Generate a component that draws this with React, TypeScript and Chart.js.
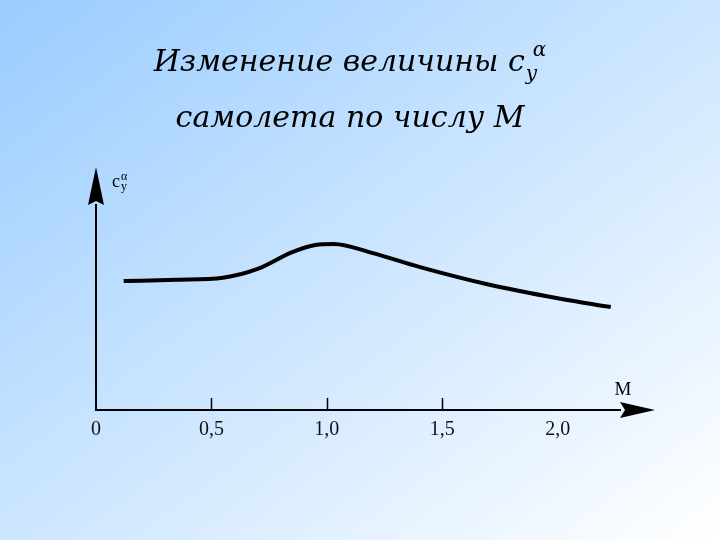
import React, { useEffect, useRef } from "react";
import { Chart, registerables } from "chart.js";

Chart.register(...registerables);

// Mach number (x) and relative c_y^alpha (y)
const machValues = [0.12, 0.35, 0.55, 0.7, 0.85, 0.95, 1.03, 1.2, 1.4, 1.7, 2.0, 2.23];
const cyaValues = [0.629, 0.635, 0.645, 0.688, 0.77, 0.805, 0.81, 0.765, 0.698, 0.612, 0.545, 0.502];
const tickValues = [0, 0.5, 1.0, 1.5, 2.0];
const tickLabels = ["0", "0,5", "1,0", "1,5", "2,0"];
const tickMarkValues = [0.5, 1.0, 1.5];
const titleLine1 = "Изменение величины c";
const titleSub = "y";
const titleSup = "α";
const titleLine2 = "самолета по числу М";
const xAxisName = "M";

const X_MAX = 2.27;

const decorPlugin = {
  id: "decor",
  afterDraw(chart: any) {
    const ctx = chart.ctx;
    const xs = chart.scales.x;
    const ys = chart.scales.y;
    const area = chart.chartArea;
    const x0 = xs.getPixelForValue(0);
    const y0 = ys.getPixelForValue(0);
    ctx.save();
    ctx.fillStyle = "#000";
    ctx.strokeStyle = "#000";
    // inward tick marks
    ctx.lineWidth = 1.5;
    tickMarkValues.forEach((v) => {
      const px = Math.round(xs.getPixelForValue(v)) + 0.5;
      ctx.beginPath();
      ctx.moveTo(px, y0);
      ctx.lineTo(px, y0 - 12);
      ctx.stroke();
    });
    // y arrow
    const yTop = area.top;
    ctx.beginPath();
    ctx.moveTo(x0, yTop - 38);
    ctx.lineTo(x0 + 8, yTop);
    ctx.lineTo(x0, yTop - 4);
    ctx.lineTo(x0 - 8, yTop);
    ctx.closePath();
    ctx.fill();
    // x arrow
    const xRight = area.right;
    ctx.beginPath();
    ctx.moveTo(xRight + 35, y0);
    ctx.lineTo(xRight, y0 + 8);
    ctx.lineTo(xRight + 5, y0);
    ctx.lineTo(xRight, y0 - 8);
    ctx.closePath();
    ctx.fill();
    // axis names
    ctx.font = "19px 'Liberation Serif'";
    ctx.textAlign = "center";
    ctx.textBaseline = "alphabetic";
    ctx.fillText(xAxisName, xRight + 3, y0 - 15);
    ctx.font = "18px 'Liberation Serif'";
    ctx.textAlign = "left";
    ctx.fillText("c", x0 + 16, yTop - 18);
    ctx.font = "12px 'Liberation Serif'";
    ctx.fillText("α", x0 + 25, yTop - 25);
    ctx.fillText("y", x0 + 25, yTop - 15);
    // title
    ctx.font = "italic 30px 'DejaVu Serif'";
    const w1 = ctx.measureText(titleLine1).width;
    ctx.font = "italic 20px 'DejaVu Serif'";
    const wsub = ctx.measureText(titleSub).width;
    const wsup = ctx.measureText(titleSup).width;
    const total = w1 + Math.max(wsub, wsup + 6) + 2;
    const cx = 350;
    let sx = cx - total / 2;
    ctx.font = "italic 30px 'DejaVu Serif'";
    ctx.fillText(titleLine1, sx, 71);
    ctx.font = "italic 20px 'DejaVu Serif'";
    ctx.fillText(titleSub, sx + w1 + 1, 80);
    ctx.fillText(titleSup, sx + w1 + 8, 56);
    ctx.font = "italic 30px 'DejaVu Serif'";
    ctx.textAlign = "center";
    ctx.fillText(titleLine2, cx, 127);
    ctx.restore();
  },
};

export default function App() {
  const ref = useRef<HTMLCanvasElement | null>(null);
  useEffect(() => {
    document.body.style.margin = "0";
    const data = machValues.map((m, i) => ({ x: m, y: cyaValues[i] }));
    const chart = new Chart(ref.current as HTMLCanvasElement, {
      type: "line",
      data: {
        datasets: [
          {
            data,
            borderColor: "#000",
            borderWidth: 4,
            pointRadius: 0,
            tension: 0.4,
            cubicInterpolationMode: "monotone",
            fill: false,
          },
        ],
      },
      options: {
        animation: false,
        responsive: false,
        layout: { padding: { left: 96, right: 100, top: 205, bottom: 100 } },
        plugins: { legend: { display: false }, tooltip: { enabled: false }, title: { display: false } },
        scales: {
          x: {
            type: "linear",
            min: 0,
            max: X_MAX,
            afterBuildTicks: (scale: any) => {
              scale.ticks = tickValues.map((v) => ({ value: v }));
            },
            afterFit: (scale: any) => {
              scale.height = 30;
            },
            grid: { display: false, drawTicks: false },
            border: { display: true, color: "#000", width: 2 },
            ticks: {
              padding: 8,
              color: "#111",
              font: { family: "'Liberation Serif'", size: 20 },
              callback: (v: any) => {
                const i = tickValues.indexOf(Number(v));
                return i >= 0 ? tickLabels[i] : "";
              },
              maxRotation: 0,
              autoSkip: false,
            },
          },
          y: {
            type: "linear",
            min: 0,
            max: 1,
            afterFit: (scale: any) => {
              scale.width = 0;
            },
            grid: { display: false, drawTicks: false },
            border: { display: true, color: "#000", width: 2 },
            ticks: { display: false },
          },
        },
      },
      plugins: [decorPlugin],
    } as any);
    return () => chart.destroy();
  }, []);
  return (
    <div
      style={{
        position: "absolute",
        left: 0,
        top: 0,
        width: 720,
        height: 540,
        background: "linear-gradient(to bottom right, #99CCFF, #FFFFFF)",
      }}
    >
      <canvas ref={ref} width={720} height={540} style={{ display: "block" }} />
    </div>
  );
}
